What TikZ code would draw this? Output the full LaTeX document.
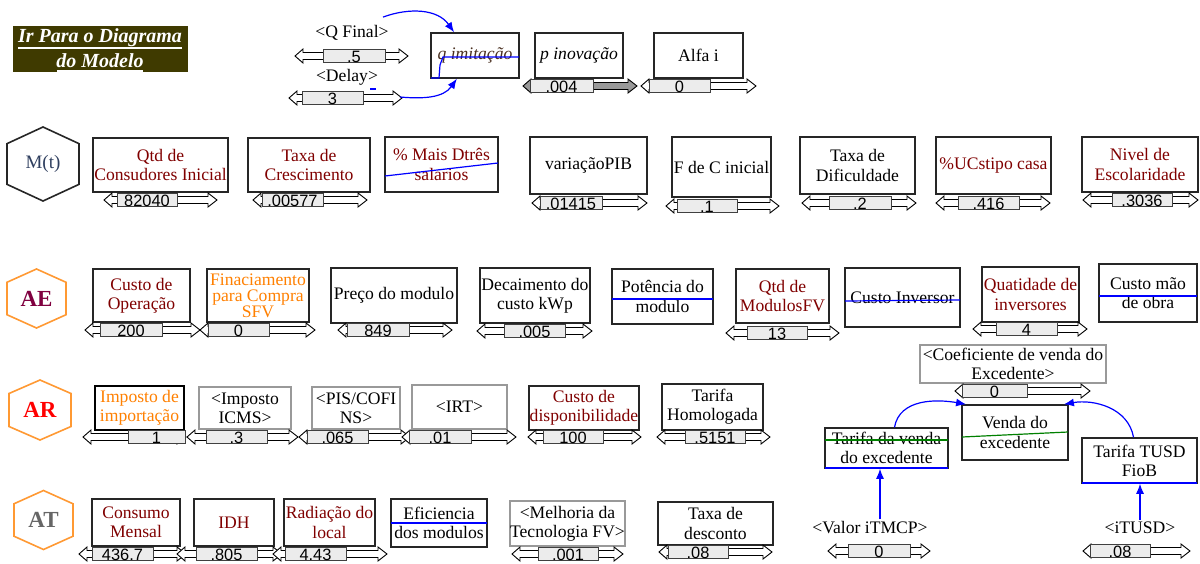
\documentclass[tikz,border=0pt]{standalone}
\usepackage{fontspec}
\setmainfont{Liberation Serif}
\newfontfamily\numfont{Liberation Sans}
\usetikzlibrary{arrows.meta}

\definecolor{dred}{HTML}{800000}
\definecolor{orng}{HTML}{FF8000}
\definecolor{hexor}{HTML}{FF9933}
\definecolor{btnbg}{HTML}{3F3A00}
\definecolor{thumbc}{HTML}{ECECEC}
\definecolor{lnblue}{HTML}{0000FF}
\definecolor{lngreen}{HTML}{008000}
\definecolor{aecol}{HTML}{800040}
\definecolor{mtcol}{HTML}{2F3F5F}
\definecolor{imitc}{HTML}{4A3020}

\tikzset{
  varnode/.style={draw=black!85, line width=0.75pt, fill=white, inner sep=0pt,
    align=center, font=\fontsize{8.8}{9.6}\selectfont},
  ghost/.style={draw=black!40},
  heavy/.style={line width=1.1pt, draw=black},
  valtxt/.style={inner sep=0pt, font=\numfont\fontsize{8.2}{8.2}\selectfont},
  lbl/.style={inner sep=1pt, align=center, font=\fontsize{8.8}{9.6}\selectfont},
  hexlbl/.style={inner sep=0pt, font=\bfseries\fontsize{11.5}{11.5}\selectfont},
  link/.style={lnblue, line width=0.6pt, -{Latex[length=5pt,width=4pt]}},
  strike/.style={lnblue, line width=0.6pt},
  gstrike/.style={lngreen, line width=0.6pt},
}

% variable box: name, x1, y1, x2, y2, options, text
\newcommand\varbox[7]{%
  \pgfmathsetmacro\vbx{(#2+#4)/2}%
  \pgfmathsetmacro\vby{(#3+#5)/2}%
  \pgfmathsetmacro\vbw{(#4-#2)*0.5}%
  \pgfmathsetmacro\vbh{(#5-#3)*0.5}%
  \node[varnode,minimum width=\vbw pt,minimum height=\vbh pt,#6] (#1) at (\vbx,\vby) {#7};}

% slider: [fill], name, left tip, right tip, thumb left, thumb right, centre y, value
\newcommand\slider[8][white]{%
  \draw[line width=0.45pt, fill=#1] (#3,#7) -- (#3+8,#7-7) -- (#3+8,#7-3.5) -- (#4-9,#7-3.5)
    -- (#4-9,#7-7) -- (#4,#7) -- (#4-9,#7+7) -- (#4-9,#7+3.5) -- (#3+8,#7+3.5)
    -- (#3+8,#7+7) -- cycle;
  \draw[line width=0.5pt, fill=thumbc, draw=black!75] (#5,#7-6.5) rectangle (#6,#7+6.5);
  \node[valtxt] (#2) at ({(#5+#6)/2},#7+0.5) {#8};}

% hexagon: name, cx, cy, half width, half height, line colour, text colour, text
\newcommand\hexa[8]{%
  \draw[#6, line width=0.8pt] (#2,#3-#5) -- (#2+#4,#3-0.55*#5) -- (#2+#4,#3+0.55*#5)
    -- (#2,#3+#5) -- (#2-#4,#3+0.55*#5) -- (#2-#4,#3-0.55*#5) -- cycle;
  \node[hexlbl,#7] (#1) at (#2,#3) {#8};}

\begin{document}
\begin{tikzpicture}[x=0.5pt,y=-0.5pt]
\useasboundingbox (0,0) rectangle (1200,563);
\fill[white] (0,0) rectangle (1200,563);
\clip (0,0) rectangle (1200,563);

% navigation button
\node[fill=btnbg, minimum width=87.5pt, minimum height=23pt, inner sep=0pt] (btn) at (100.5,49) {};
\node[inner sep=0pt, text=white, font=\bfseries\itshape\fontsize{10}{10}\selectfont] (btna) at (100,38) {Ir Para o Diagrama};
\node[inner sep=0pt, text=white, font=\bfseries\itshape\fontsize{10}{10}\selectfont] (btnb) at (100,61) {do Modelo};
\draw[white, line width=0.6pt] (18,48) -- (182,48);
\draw[white, line width=0.6pt] (57,71) -- (143,71);

% top row: diffusion parameters
\node[lbl] (qfinal) at (352,33) {<Q Final>};
\node[lbl] (delay) at (347,77) {<Delay>};
\varbox{qimit}{431}{33}{519}{78}{font=\itshape\fontsize{8.8}{9.6}\selectfont, text=imitc}{q imitação}
\varbox{pinov}{535}{33}{623}{78}{font=\itshape\fontsize{8.8}{9.6}\selectfont}{p inovação}
\varbox{alfa}{654}{33}{743}{78}{}{Alfa i}
\draw[strike] (431,78) -- (439,78) -- (440,65) -- (443,57) -- (519,57);
\slider{qfinalv}{295}{408}{323}{385}{56}{.5}
\slider{delayv}{289}{402}{302}{363}{98}{3}
\slider[black!40]{pinovv}{523}{637}{530}{593}{86}{.004}
\slider{alfav}{641}{756}{649}{710}{86}{0}
\coordinate (delayend) at (400,97);
\draw[lnblue, line width=0.6pt] (370,89) -- (376,89);
\draw[link] (qfinal.north east) ++(-8,-6) coordinate (qfs) to[out=20,in=125] (qimit.132);
\draw[link] (delayend) to[out=-5,in=-125] (qimit.-128);

% market block
\hexa{mt}{43}{164}{36}{37}{black!85}{mtcol, font=\fontsize{9.5}{9.5}\selectfont}{M(t)}
\varbox{qtd}{93}{138}{228}{192}{text=dred}{Qtd de\\Consudores Inicial}
\varbox{txcresc}{248}{138}{370}{192}{text=dred}{Taxa de\\Crescimento}
\varbox{dtres}{385}{137}{498}{192}{text=dred}{\% Mais Dtrês\\salarios}
\varbox{varpib}{530}{137}{647}{194}{}{variaçãoPIB}
\varbox{fdec}{672}{137}{771}{197}{}{F de C inicial}
\varbox{txdif}{800}{137}{915}{194}{}{Taxa de\\Dificuldade}
\varbox{ucs}{936}{137}{1051}{194}{text=dred}{\%UCstipo casa}
\varbox{nivel}{1082}{137}{1198}{192}{text=dred}{Nivel de\\Escolaridade}
\draw[strike] (385,176) -- (498,163);
\slider{qtdv}{104}{217}{117}{177}{200}{82040}
\slider{txcrescv}{253}{367}{262}{323}{200}{.00577}
\slider{varpibv}{532}{647}{540}{602}{203}{.01415}
\slider{fdecv}{666}{779}{677}{737}{206}{.1}
\slider{txdifv}{802}{916}{829}{891}{203}{.2}
\slider{ucsv}{936}{1050}{958}{1019}{203}{.416}
\slider{nivelv}{1083}{1198}{1112}{1172}{200}{.3036}

% economic block
\hexa{ae}{36.5}{298.5}{29.5}{29.5}{hexor}{aecol}{AE}
\varbox{custoop}{93}{269}{190}{322}{text=dred}{Custo de\\Operação}
\varbox{finac}{207}{269}{309}{322}{text=orng, font=\fontsize{8.8}{8}\selectfont}{Finaciamento\\para Compra\\SFV}
\varbox{preco}{331}{268}{457}{323}{}{Preço do modulo}
\varbox{decai}{480}{268}{590}{323}{}{Decaimento do\\custo kWp}
\varbox{potencia}{612}{269}{713}{324}{}{Potência do\\modulo}
\varbox{qtdmod}{736}{269}{829}{323}{text=dred}{Qtd de\\ModulosFV}
\varbox{inversor}{845}{268}{960}{327}{}{Custo Inversor}
\varbox{quatinv}{982}{267}{1079}{322}{text=dred}{Quatidade de\\inversores}
\varbox{maoobra}{1099}{264}{1197}{322}{}{Custo mão\\de obra}
\draw[strike] (612,299) -- (713,299);
\draw[strike] (845,301) -- (960,300);
\draw[strike] (1099,296) -- (1197,296);
\slider{custoopv}{85}{200}{100}{162}{330}{200}
\slider{finacv}{200}{315}{208}{269}{330}{0}
\slider{precov}{338}{452}{347}{409}{330}{849}
\slider{decaiv}{477}{592}{504}{565}{331}{.005}
\slider{qtdmodv}{726}{839}{747}{807}{333}{13}
\slider{quatinvv}{973}{1087}{996}{1057}{329}{4}

% regulatory block
\hexa{ar}{40}{410}{31}{30}{hexor}{red}{AR}
\varbox{impimp}{95}{386}{184}{430}{heavy, text=orng}{Imposto de\\importação}
\varbox{icms}{199}{387}{291}{429}{ghost}{<Imposto\\ICMS>}
\varbox{pis}{312}{387}{400}{429}{ghost}{<PIS/COFI\\NS>}
\varbox{irt}{412}{385}{507}{429}{ghost}{<IRT>}
\varbox{custodisp}{529}{386}{639}{430}{text=dred}{Custo de\\disponibilidade}
\varbox{tarhom}{662}{384}{763}{430}{}{Tarifa\\Homologada}
\slider{impimpv}{83}{186}{128}{185}{437}{1}
\slider{icmsv}{187}{298}{206}{267}{437}{.3}
\slider{pisv}{299}{410}{307}{368}{437}{.065}
\slider{irtv}{402}{516}{409}{471}{437}{.01}
\slider{custodispv}{528}{641}{543}{603}{437}{100}
\slider{tarhomv}{657}{770}{685}{745}{437}{.5151}

% technical block
\hexa{at}{43.5}{520}{29.5}{29.5}{hexor}{black!60}{AT}
\varbox{consumo}{92}{499}{180}{546}{text=dred}{Consumo\\Mensal}
\varbox{idh}{194}{499}{274}{546}{text=dred}{IDH}
\varbox{radiacao}{284}{499}{375}{546}{text=dred}{Radiação do\\local}
\varbox{eficiencia}{391}{499}{487}{547}{}{Eficiencia\\dos modulos}
\varbox{melhoria}{510}{501}{625}{546}{ghost}{<Melhoria da\\Tecnologia FV>}
\varbox{txdesc}{658}{502}{773}{545}{}{Taxa de\\desconto}
\draw[strike] (391,523) -- (487,523);
\slider{consumov}{79}{186}{92}{153}{554}{436.7}
\slider{idhv}{177}{282}{196}{257}{554}{.805}
\slider{radiacaov}{273}{387}{285}{346}{554}{4.43}
\slider{melhoriav}{512}{623}{538}{598}{554}{.001}
\slider{txdescv}{659}{772}{668}{728}{552}{.08}

% surplus sale
\varbox{coef}{920}{345}{1106}{383}{ghost}{<Coeficiente de venda do\\Excedente>}
\slider{coefv}{955}{1090}{962}{1027}{391}{0}
\varbox{venda}{962}{405}{1068}{460}{}{Venda do\\excedente}
\varbox{tarvenda}{825}{428}{948}{468}{}{Tarifa da venda\\do excedente}
\varbox{tusd}{1082}{438}{1197}{483}{}{Tarifa TUSD\\FioB}
\draw[gstrike] (962,437) -- (1068,432);
\draw[gstrike] (825,440) -- (948,440);
\draw[lnblue, line width=1.2pt] (825,468) -- (948,468);
\draw[lnblue, line width=1.2pt] (1082,483) -- (1197,483);
\node[lbl] (itmcp) at (870,528) {<Valor iTMCP>};
\node[lbl] (itusd) at (1140,528) {<iTUSD>};
\slider{itmcpv}{828}{930}{848}{910}{551}{0}
\slider{itusdv}{1083}{1190}{1090}{1150}{551}{.08}
\draw[link] (itmcp.north -| 880,0) -- (tarvenda.south -| 880,0);
\draw[link] (itusd.north) -- (tusd.south -| itusd.north);
\draw[link] (tarvenda.north) ++(8,0) coordinate (tvs) to[out=80,in=170] (venda.150);
\draw[link] (tusd.north) ++(-6,0) coordinate (tus) to[out=100,in=10] (venda.30);

\end{tikzpicture}
\end{document}
